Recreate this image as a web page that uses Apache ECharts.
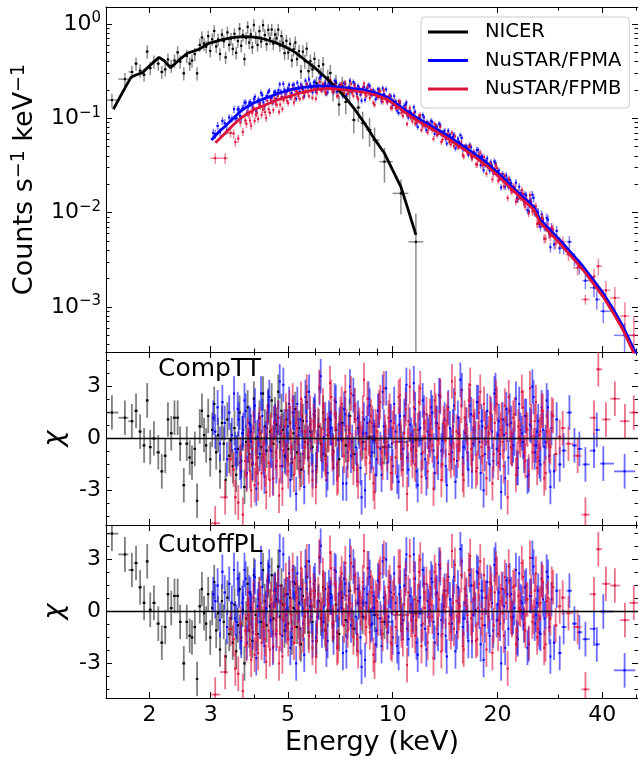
<!DOCTYPE html>
<html><head><meta charset="utf-8">
<script src="https://cdn.jsdelivr.net/npm/echarts@6/dist/echarts.min.js"></script>
<style>html,body{margin:0;padding:0;background:#fff}#chart{width:638px;height:759px}</style>
</head><body><div id="chart"></div>
<script>
// ---------------- data ----------------
const nicerE = [1.56,1.70,1.78,1.83,1.88,1.93,1.97,2.01,2.06,2.12,2.17,2.22,2.26,2.31,2.36,2.41,2.45,2.51,2.56,2.61,2.65,2.70,2.74,2.79,2.83,2.87,
2.91,2.95,2.99,3.03,3.07,3.11,3.15,3.19,3.23,3.27,3.31,3.35,3.39,3.43,3.47,3.51,3.55,3.59,3.63,3.67,3.71,3.75,3.79,3.83,3.87,3.91,3.95,3.99,
4.04,4.09,4.14,4.19,4.24,4.29,4.34,4.39,4.44,4.49,4.54,4.59,4.64,4.69,4.74,4.79,4.84,4.89,
4.95,5.01,5.07,5.13,5.19,5.25,5.31,5.38,5.45,5.52,5.59,5.66,5.73,5.80,5.88,5.96,
6.04,6.13,6.22,6.31,6.41,6.51,6.62,6.74,6.87,7.01,7.16,7.33,7.52,7.73,7.97,8.20,8.58,8.87,9.47,10.56,11.66];
const nicerRate = [0.156,0.26,0.31,0.38,0.32,0.29,0.51,0.34,0.40,0.38,0.31,0.33,0.42,0.36,0.41,0.50,0.40,0.30,0.46,0.38,0.41,0.48,0.30,0.60,0.72,0.62,
0.575,0.743,0.518,0.689,0.844,0.578,0.685,0.481,0.772,0.655,0.443,0.814,0.600,0.701,0.545,0.786,0.495,0.660,0.892,0.588,0.764,0.425,0.712,0.932,0.635,0.778,0.566,0.976,
0.721,0.599,0.840,0.653,0.972,0.764,0.610,0.866,0.705,0.874,0.619,0.773,0.704,0.871,0.592,0.744,0.633,0.491,
0.664,0.498,0.615,0.411,0.539,0.636,0.424,0.515,0.314,0.509,0.403,0.547,0.316,0.403,0.329,0.427,
0.236,0.358,0.285,0.373,0.218,0.270,0.302,0.193,0.236,0.140,0.221,0.149,0.200,0.096,0.130,0.089,0.0755,0.0589,0.0347,0.016,0.0049];
const nicerErrPct = [17,16,16,16,16,16,16,16,16,16,16,16,16,16,16,16,16,16,16,16,16,16,16,16,16,16,
15,15,15,15,15,15,15,15,15,15,15,15,15,15,15,15,15,15,15,15,15,15,15,15,15,15,15,15,
15,15,15,15,15,15,15,15,15,15,15,15,15,15,15,15,15,15,
16,16,16,16,16,16,16,16,17,17,17,17,17,18,18,18,
18,19,19,20,20,21,22,22,23,24,25,26,27,28,30,32,34,35,40,40,100];
const nicerResCompTT = [1.5,1.2,1.0,1.6,0.4,-0.4,2.2,-0.5,0.0,-0.8,-1.9,-1.0,1.1,0.3,1.2,1.2,-0.3,-2.7,-0.3,-1.1,-1.4,-0.6,-3.6,0.7,1.6,0.2,
-0.4,1.3,-1.2,0.5,2.0,-0.8,0.2,-1.9,0.9,-0.3,-2.4,1.1,-1.0,-0.1,-1.6,0.6,-2.1,-0.6,1.5,-1.3,0.3,-2.8,-0.2,1.8,-0.9,0.4,-1.5,2.3,
0.0,-1.1,1.2,-0.5,2.6,0.7,-0.7,1.9,0.4,2.2,-0.3,1.4,0.8,2.7,-0.2,1.6,0.5,-1.0,
1.1,-0.6,0.9,-1.4,0.3,1.7,-0.8,0.6,-1.8,1.0,-0.2,2.1,-1.1,0.4,-0.5,1.3,
-1.6,0.7,-0.3,1.5,-1.0,0.2,1.1,-0.7,0.5,-1.2,0.9,-0.4,1.3,-0.9,0.6,-0.2,0.1,-0.1,-0.5,-0.2,-0.1];
const nicerResCutoffPL = [4.5,3.3,2.4,2.8,1.4,0.5,2.9,0.1,0.5,-0.7,-1.8,-0.9,1.0,0.2,0.9,0.9,-0.6,-3.0,-0.6,-1.4,-1.5,-0.9,-3.9,0.3,1.3,-0.1,
-0.7,1.0,-1.5,0.2,1.7,-1.1,-0.1,-2.2,0.6,-0.6,-2.6,0.8,-1.3,-0.4,-1.8,0.4,-2.3,-0.8,1.3,-1.5,0.1,-3.0,-0.4,1.6,-1.1,0.2,-1.7,2.1,
-0.2,-1.3,1.0,-0.6,2.4,0.6,-0.8,1.8,0.3,2.1,-0.4,1.3,0.7,2.6,-0.3,1.5,0.4,-1.1,
1.0,-0.7,0.8,-1.5,0.2,1.6,-0.9,0.5,-1.9,0.9,-0.3,2.0,-1.2,0.3,-0.6,1.2,
-1.7,0.6,-0.4,1.4,-1.1,0.1,1.0,-0.8,0.4,-1.3,0.8,-0.5,1.2,-1.0,0.5,-0.3,0.0,-0.2,-0.6,-0.2,-0.1];

// NuSTAR/FPMA, main bin list
const fpmaE = [3.05,3.09,3.14,3.19,3.24,3.29,3.34,3.39,3.45,3.50,3.56,3.61,3.67,3.72,3.78,3.84,3.90,3.96,
4.02,4.09,4.15,4.22,4.28,4.35,4.42,4.49,4.56,4.63,4.70,4.77,4.85,4.92,
5.00,5.08,5.16,5.24,5.32,5.40,5.49,5.57,5.66,5.75,5.84,5.93,
6.02,6.11,6.21,6.31,6.40,6.50,6.61,6.71,6.81,6.92,7.03,7.14,7.25,7.36,7.48,7.59,7.71,7.83,7.95,
8.08,8.20,8.33,8.46,8.59,8.73,8.86,9.00,9.14,9.29,9.43,9.58,9.73,9.88,
10.0,10.2,10.4,10.5,10.7,10.9,11.0,11.2,11.4,11.5,11.7,11.9,12.1,12.3,12.5,12.7,12.9,13.1,13.3,13.5,13.7,13.9,
14.1,14.3,14.6,14.8,15.0,15.3,15.5,15.8,16.0,16.3,16.5,16.8,17.0,17.3,17.6,17.9,18.1,18.4,18.7,19.0,19.3,19.6,19.9,
20.2,20.5,20.9,21.2,21.5,21.9,22.2,22.6,22.9,23.3,23.7,24.0,24.4,24.8,25.2,25.6,26.0,26.4,26.8,27.3,27.7,28.2,28.6,29.1,29.6,
30.2,31.0,32.2,33.3,34.4,35.8,37.9,38.6,40.3,46.4];
const fpmaRate = [0.070,0.068,0.083,0.0713,0.094,0.089,0.075,0.102,0.099,0.125,
0.100,0.125,0.100,0.130,0.147,0.131,0.149,0.128,0.169,0.152,
0.144,0.176,0.133,0.172,0.197,0.165,0.188,0.160,0.199,0.192,
0.232,0.179,0.208,0.167,0.225,0.203,0.238,0.192,0.219,0.172,
0.231,0.258,0.209,0.240,0.192,0.223,0.277,0.207,0.238,0.189,
0.228,0.212,0.249,0.192,0.225,0.211,0.236,0.172,0.215,0.193,
0.242,0.197,0.220,0.178,0.205,0.157,0.208,0.219,0.179,0.189,
0.169,0.201,0.151,0.181,0.203,0.160,0.171,0.138,0.151,0.114,
0.147,0.123,0.139,0.110,0.120,0.107,0.131,0.088,0.101,0.089,
0.102,0.075,0.087,0.094,0.077,0.083,0.069,0.085,0.0705,0.074,
0.054,0.067,0.0585,0.067,0.0518,0.0562,0.062,0.0483,0.0507,0.0411,
0.0494,0.0421,0.041,0.0461,0.0318,0.0388,0.0323,0.0376,0.0280,0.0313,
0.0349,0.0261,0.0279,0.0185,0.0234,0.0248,0.0189,0.0206,0.0177,0.0208,
0.0139,0.0161,0.0143,0.0156,0.0106,0.0135,0.0155,0.0101,0.0102,0.0076,
0.0096,0.0071,0.0088,0.0060,0.0069,0.0046,0.0064,
0.0042,0.0042,0.0049,0.0032,0.0027,0.0019,0.0016,0.0012,0.0009,0.0005];
const fpmaErrPct = [11,11,10,10,10,10,10,9,9,9, 9,9,9,8,8,8,8,8,8,8, 8,8,8,7,7,7,7,7,7,7,
7,7,7,7,7,7,7,7,7,7, 7,7,7,7,7,7,7,7,7,7, 7,7,7,7,7,7,7,7,7,7, 7,7,7,7,7,7,7,7,7,7,
7,7,7,7,7,7,7,7,7,7, 7,7,7,7,7,7,7,7,7,7, 7,7,7,7,7,7,7,7,7,7, 7,7,7,7,7,7,7,7,7,7, 7,7,
8,8,8,8,8,8,8,8,8,8,8,8,8,8,8,8,8, 9,9,9,9,9,9, 10,10,10,10,10,10, 11,11,11, 12,12, 13,
13,14,15,16,18,19,21,22,25,35];
const fpmaResCompTT = [1.2,0.4,1.8,-0.3,2.1,0.9,-1.2,1.5,0.2,2.6, -0.8,1.1,-1.9,0.5,1.6,-0.4,0.8,-1.4,1.9,0.1,
-0.9,1.3,-2.2,0.6,2.4,-0.7,0.9,-1.6,1.2,0.3, 3.1,-1.1,0.7,-2.4,1.5,-0.2,2.0,-1.3,0.4,-2.8,
1.0,2.7,-0.6,1.4,-1.8,0.2,3.6,-0.9,1.1,-2.0, 0.6,-0.3,2.2,-1.5,0.8,-0.1,1.7,-2.6,0.5,-1.0,
2.5,-0.5,1.2,-1.7,0.3,-3.0,0.9,1.9,-0.8,0.1, -1.2,1.6,-2.1,0.7,2.9,-0.4,1.0,-1.6,0.4,-2.5,
1.3,-0.6,2.0,-1.1,0.8,-0.2,3.2,-1.9,0.5,-0.9, 1.5,-2.3,0.2,1.8,-0.7,0.9,-1.4,2.4,-0.1,1.1,
-2.7,0.6,-0.8,1.9,-1.3,0.3,2.8,-0.5,0.8,-1.8, 1.4,-0.3,0.0,2.1,-2.0,0.7,-0.9,1.6,-1.5,0.4,
2.6,-0.6,1.0,-3.1,0.2,1.7,-1.1,0.9,-0.4,2.3, -1.7,0.5,-0.2,1.3,-2.2,0.8,3.0,-0.8,0.4,-1.3,
1.8,-0.5,2.2,-1.0,0.6,-1.9,1.1,
-1.5,-0.7,1.5,-0.4,-0.6,-1.5,-0.7,0.5,-1.45,-1.9];
const fpmaResCutoffPL = [1.0,0.6,1.5,-0.5,2.3,1.1,-0.9,1.6,0.5,2.4, -0.6,1.2,-1.7,0.8,1.9,-0.2,1.0,-1.2,2.0,0.3,
-0.6,1.4,-2.0,0.9,2.6,-0.5,1.2,-1.3,1.5,0.5, 3.3,-0.8,1.0,-2.1,1.7,0.1,2.2,-1.0,0.7,-2.5,
1.3,2.9,-0.3,1.6,-1.5,0.5,3.8,-0.6,1.3,-1.7, 0.8,0.0,2.4,-1.2,1.0,0.2,1.9,-2.3,0.7,-0.8,
2.6,-0.3,1.3,-1.5,0.5,-2.8,1.0,2.0,-0.7,0.2, -1.1,1.7,-2.0,0.8,3.0,-0.3,1.1,-1.5,0.5,-2.4,
1.4,-0.5,2.1,-1.0,0.9,-0.1,3.3,-1.8,0.6,-0.8, 1.6,-2.2,0.3,1.9,-0.6,1.0,-1.3,2.5,0.0,1.2,
-2.6,0.7,-0.7,2.0,-1.2,0.4,2.9,-0.4,0.9,-1.7, 1.5,-0.2,0.1,2.2,-1.9,0.8,-0.8,1.7,-1.4,0.5,
2.7,-0.5,1.1,-3.0,0.3,1.8,-1.0,1.0,-0.3,2.4, -1.6,0.6,-0.1,1.4,-2.1,0.9,3.1,-0.7,0.5,-1.2,
1.9,-0.4,2.3,-0.9,0.7,-1.8,1.2,
-2.4,-0.9,1.2,-0.7,-1.2,-1.6,-1.0,-1.9,0.0,-3.4];

// NuSTAR/FPMA, interleaved bins
const fpmaExtraE = [3.53,3.585,3.64,3.695,3.75,3.81,3.87,3.93,3.99,4.055,4.12,4.185,4.25,4.315,4.385,4.455,4.525,4.595,4.665,4.735,
4.81,4.885,4.96,5.04,5.12,5.20,5.28,5.36,5.445,5.53,5.615,5.705,5.795,5.885,5.975,6.065,6.16,6.26,6.355,6.45,
6.555,6.66,6.76,6.865,6.975,7.085,7.195,7.305,7.42,7.535,7.65,7.77,7.89,8.015,8.14,8.265,8.395,8.525,8.66,8.795,
8.93,9.07,9.215,9.36,9.505,9.655,9.805,9.94,10.1,10.3,10.45,10.6,10.8,10.95,11.1,11.3,11.45,11.6,11.8,12.0,
12.2,12.4,12.6,12.8,13.0,13.2,13.4,13.6,13.8,14.0,14.2,14.45,14.7,14.9,15.15,15.4,15.65,15.9,16.15,16.4,
16.65,16.9,17.15,17.45,17.75,18.0,18.25,18.55,18.85,19.15,19.45,19.75,20.05,20.35,20.7,21.05,21.35,21.7,22.05,22.4,
22.75,23.1,23.5,23.85,24.2,24.6,25.0,25.4,25.8,26.2,26.6,27.05,27.5,27.95,28.4];
const fpmaExtraRate = [0.100,0.124,0.106,0.126,0.147,0.114,0.146,0.140,0.159,0.119,
0.158,0.186,0.148,0.1635,0.188,0.163,0.147,0.191,0.187,0.229,
0.168,0.202,0.191,0.227,0.185,0.227,0.161,0.213,0.228,0.200,
0.251,0.212,0.230,0.189,0.244,0.212,0.265,0.201,0.2225,0.183,
0.238,0.227,0.191,0.247,0.213,0.226,0.173,0.231,0.197,0.251,
0.2036,0.232,0.182,0.208,0.154,0.215,0.2016,0.226,0.178,0.198,
0.159,0.203,0.171,0.208,0.171,0.151,0.174,0.154,0.172,0.121,
0.144,0.123,0.136,0.147,0.102,0.113,0.104,0.117,0.081,0.100,
0.108,0.083,0.090,0.0839,0.0906,0.0684,0.0818,0.0875,0.0685,0.0705,
0.0604,0.0738,0.0612,0.0635,0.0479,0.0607,0.0662,0.0471,0.0500,0.0448,
0.0521,0.0381,0.0435,0.0462,0.0382,0.0398,0.0282,0.0354,0.0314,0.0340,
0.0269,0.0336,0.0270,0.0236,0.0256,0.0188,0.0224,0.0222,0.0180,0.0177,
0.0142,0.0188,0.0154,0.0130,0.0152,0.0104,0.0130,0.0143,0.0100,0.0101,
0.0071,0.0082,0.0071,0.0084,0.0043];
const fpmaExtraErrPct = [9,9,9,9, 8,8,8,8,8,8,8,8,8,8,
7,7,7,7,7,7,7,7,7,7, 7,7,7,7,7,7,7,7,7,7, 7,7,7,7,7,7,7,7,7,7, 7,7,7,7,7,7,7,7,7,7,
7,7,7,7,7,7,7,7,7,7, 7,7,7,7,7,7,7,7,7,7, 7,7,7,7,7,7,7,7,7,7, 7,7,7,7,7,7,7,7,7,7, 7,7,7,7,7,7,7,7,7,
8,8,8,8,8,8,8,8,8,8,8,8,8,8,8,8,8, 9,9,9,9,9, 10,10,10,10,10, 11,11,11, 12,12];
const fpmaExtraResCompTT = [-0.6,1.7,-1.4,0.3,2.2,-2.0,0.9,-0.2,1.3,-2.9, 0.5,2.6,-1.1,0.0,1.8,-0.7,-2.3,1.0,0.4,3.3,
-1.6,0.7,-0.4,2.0,-1.2,1.5,-3.2,0.2,1.1,-0.9, 2.4,-0.3,0.8,-1.9,1.6,-0.5,2.9,-1.3,0.1,-2.4,
1.2,0.6,-1.7,2.1,-0.1,0.9,-2.6,1.4,-0.8,3.0, -0.2,1.9,-1.5,0.4,-3.4,1.1,0.3,2.3,-1.0,0.7,
-2.1,1.6,-0.6,2.7,0.0,-1.4,1.0,-0.3,2.0,-2.2, 0.8,-0.9,1.3,3.1,-1.8,0.2,-0.5,1.7,-2.7,0.6,
2.2,-1.2,0.4,-0.1,1.5,-2.0,0.9,2.5,-0.7,0.1, -1.6,1.8,-0.4,0.7,-2.5,1.2,3.4,-1.1,0.3,-0.8,
1.9,-1.9,0.5,2.1,-0.2,1.0,-3.0,0.6,-0.5,1.4, -1.3,2.8,0.2,-0.9,1.1,-2.3,0.8,1.6,-0.6,0.0,
-1.7,2.0,0.3,-1.0,1.3,-2.1,0.7, 2.4,-0.4,1.0,-1.5,0.5,-0.2,1.8,-2.8];
const fpmaExtraResCutoffPL = [-0.4,1.9,-1.2,0.5,2.4,-1.8,1.1,0.0,1.5,-2.7, 0.7,2.8,-0.9,0.2,2.0,-0.5,-2.1,1.2,0.6,3.5,
-1.4,0.9,-0.2,2.2,-1.0,1.7,-3.0,0.4,1.3,-0.7, 2.6,-0.1,1.0,-1.7,1.8,-0.3,3.1,-1.1,0.3,-2.2,
1.4,0.8,-1.5,2.3,0.1,1.1,-2.4,1.6,-0.6,3.2, 0.0,2.1,-1.3,0.6,-3.2,1.3,0.5,2.5,-0.8,0.9,
-1.9,1.8,-0.4,2.9,0.2,-1.2,1.2,-0.1,2.2,-2.0, 1.0,-0.7,1.5,3.3,-1.6,0.4,-0.3,1.9,-2.5,0.8,
2.4,-1.0,0.6,0.1,1.7,-1.8,1.1,2.7,-0.5,0.3, -1.4,2.0,-0.2,0.9,-2.3,1.4,3.6,-0.9,0.5,-0.6,
2.1,-1.7,0.7,2.3,0.0,1.2,-2.8,0.8,-0.3,1.6, -1.1,3.0,0.4,-0.7,1.3,-2.1,1.0,1.8,-0.4,0.2,
-1.5,2.2,0.5,-0.8,1.5,-1.9,0.9, 2.6,-0.2,1.2,-1.3,0.7,0.0,2.0,-2.6];

// NuSTAR/FPMB, main bin list
const fpmbE = [3.09,3.30,3.42,3.49,3.53,3.60,3.65,3.71,3.77,3.83,3.89,3.95,
4.01,4.07,4.14,4.20,4.27,4.33,4.40,4.47,4.54,4.61,4.68,4.75,4.82,4.89,4.97,
5.05,5.12,5.20,5.28,5.36,5.45,5.53,5.62,5.70,5.79,5.88,5.97,
6.06,6.16,6.26,6.35,6.45,6.55,6.66,6.76,6.87,6.97,7.08,7.19,7.31,7.42,7.54,7.65,7.77,7.89,
8.02,8.14,8.27,8.40,8.53,8.66,8.80,8.94,9.07,9.21,9.36,9.50,9.65,9.80,9.95,
10.1,10.3,10.5,10.6,10.8,11.0,11.1,11.3,11.5,11.6,11.8,12.0,12.2,12.4,12.6,12.8,13.0,13.2,13.4,13.6,13.8,
14.0,14.2,14.4,14.7,14.9,15.1,15.4,15.6,15.9,16.1,16.4,16.7,16.9,17.2,17.5,17.7,18.0,18.3,18.6,18.9,19.2,19.5,19.8,
20.1,20.4,20.7,21.0,21.4,21.7,22.0,22.4,22.8,23.1,23.5,23.9,24.2,24.6,25.0,25.4,25.8,26.2,26.6,27.0,27.5,27.9,28.4,28.9,29.4,
30.2,30.8,32.0,34.0,35.8,37.9,39.0,41.0,43.5,46.5,49.3];
const fpmbRate = [0.0377,0.0377,0.070,0.069,0.056,0.061,0.090,0.072,0.095,0.115,
0.095,0.114,0.094,0.114,0.139,0.109,0.133,0.101,0.125,0.153,
0.122,0.143,0.172,0.140,0.125,0.167,0.153,0.197,0.167,0.147,
0.194,0.172,0.217,0.166,0.196,0.190,0.215,0.165,0.210,0.187,
0.244,0.198,0.221,0.185,0.210,0.242,0.194,0.214,0.173,0.223,
0.201,0.238,0.181,0.202,0.187,0.221,0.170,0.204,0.187,0.234,
0.173,0.185,0.199,0.146,0.185,0.167,0.195,0.150,0.168,0.148,
0.171,0.128,0.152,0.132,0.149,0.114,0.120,0.087,0.117,0.100,
0.113,0.088,0.097,0.108,0.082,0.085,0.071,0.087,0.075,0.087,
0.066,0.073,0.056,0.069,0.0625,0.068,0.053,0.0576,0.0644,0.0495,
0.0507,0.041,0.050,0.0431,0.051,0.0375,0.0412,0.0324,0.041,0.0336,
0.0389,0.0259,0.0309,0.0316,0.0258,0.0317,0.0218,0.0244,0.0220,0.0244,
0.0143,0.0199,0.0167,0.0187,0.0139,0.0150,0.0174,0.0123,0.0136,0.0099,
0.0127,0.0104,0.0117,0.0077,0.0080,0.0086,0.0053,0.0070,0.0056,0.0066,
0.0047,
0.0049,0.0049,0.0036,0.0026,0.0012,0.0021,0.0027,0.0015,0.00125,0.0008,0.0005];
const fpmbErrPct = [13,13,11,11,11,10,10,10,10,10, 10,10,9,9,9,9,9,9,9,8, 8,8,8,8,8,8,8,8,8,8, 8,
7,7,7,7,7,7,7,7,7,7, 7,7,7,7,7,7,7,7,7,7, 7,7,7,7,7,7,7,7,7,7, 7,7,7,7,7,7,7,7,7,7,
7,7,7,7,7,7,7,7,7,7, 7,7,7,7,7,7,7,7,7,7, 7,7,7,7,7,7,7,7,7,7, 7,7,7,7,
8,8,8,8,8,8,8,8,8,8,8,8,8,8,8,8, 9,9,9,9,9,9,9, 10,10,10,10,10,10, 11,11,11, 12,12,12, 13,
13,14,15,17,12,20,20,26,30,40,60];
const fpmbResCompTT = [-4.9,-3.4,-1.2,-1.8,-3.4,-3.7,-0.9,-4.4,-1.3,0.2, -1.9,-0.6,-2.7,-1.1,0.8,-2.0,-0.3,-3.1,-1.4,0.5,
-2.3,-0.8,1.2,-1.6,-2.9,0.1,-1.2,1.8,-0.5,-2.1, 0.9,-0.9,2.3,-1.7,0.4,-0.2,1.5,-2.4,0.7,-1.0,
3.0,-0.4,1.1,-1.5,0.2,2.4,-0.8,0.6,-2.2,1.4, -0.1,2.7,-1.3,0.3,-0.7,1.9,-1.8,0.8,-0.3,3.4,
-1.1,0.0,1.3,-2.6,0.7,-0.5,2.1,-1.4,0.4,-0.9, 1.6,-2.0,0.9,-0.2,2.5,-1.2,0.3,-3.2,1.0,-0.6,
1.8,-1.5,0.5,2.9,-0.8,0.1,-1.9,1.3,-0.4,2.2, -1.1,0.6,-2.4,0.9,-0.1,1.7,-1.3,0.4,2.6,-0.7,
0.2,-2.1,1.2,-0.3,3.1,-1.0,0.7,-1.7,1.5,-0.5, 2.0,-2.3,0.3,1.1,-0.9,2.4,-1.4,0.5,-0.2,1.9,
-3.4,0.8,-0.6,1.4,-1.2,0.1,2.7,-0.8,0.6,-1.9, 1.0,-0.4,2.1,-1.1,0.4,1.6,-2.0,0.7,-0.5,1.3,
-0.9,
0.1,0.6,-0.3,-1.0,-4.4,1.2,4.0,1.1,2.3,1.0,1.5];
const fpmbResCutoffPL = [-4.8,-3.5,-1.0,-1.6,-3.3,-3.6,-0.7,-4.6,-1.1,0.4, -1.6,-0.4,-2.5,-0.8,1.0,-1.8,0.0,-2.9,-1.1,0.7,
-2.0,-0.5,1.4,-1.3,-2.6,0.4,-0.9,2.0,-0.2,-1.8, 1.1,-0.6,2.5,-1.4,0.7,0.1,1.7,-2.1,0.9,-0.8,
3.2,-0.2,1.3,-1.3,0.4,2.5,-0.6,0.8,-2.0,1.6, 0.1,2.8,-1.1,0.5,-0.5,2.0,-1.6,1.0,-0.1,3.5,
-0.9,0.2,1.4,-2.5,0.8,-0.4,2.2,-1.3,0.5,-0.8, 1.7,-1.9,1.0,-0.1,2.6,-1.1,0.4,-3.1,1.1,-0.5,
1.9,-1.4,0.6,3.0,-0.7,0.2,-1.8,1.4,-0.3,2.3, -1.0,0.7,-2.3,1.0,0.0,1.8,-1.2,0.5,2.7,-0.6,
0.3,-2.0,1.3,-0.2,3.2,-0.9,0.8,-1.6,1.6,-0.4, 2.1,-2.2,0.4,1.2,-0.8,2.5,-1.3,0.6,-0.1,2.0,
-3.3,0.9,-0.5,1.5,-1.1,0.2,2.8,-0.7,0.7,-1.8, 1.1,-0.3,2.2,-1.0,0.5,1.7,-1.9,0.8,-0.4,1.4,
-0.8,
0.3,0.8,-0.1,-0.9,-4.5,1.0,3.6,1.6,1.5,-0.5,0.5];

// NuSTAR/FPMB, interleaved bins
const fpmbExtraE = [3.80,3.86,3.92,3.98,4.04,4.105,4.17,4.235,4.30,4.365,4.435,4.505,4.575,4.645,4.715,4.785,4.855,4.93,5.01,5.085,
5.16,5.24,5.32,5.405,5.49,5.575,5.66,5.745,5.835,5.925,6.015,6.11,6.21,6.305,6.40,6.50,6.605,6.71,6.815,6.92,
7.025,7.135,7.25,7.365,7.48,7.595,7.71,7.83,7.955,8.08,8.205,8.335,8.465,8.595,8.73,8.87,9.005,9.14,9.285,9.43,
9.575,9.725,9.875,10.0,10.2,10.4,10.55,10.7,10.9,11.05,11.2,11.4,11.55,11.7,11.9,12.1,12.3,12.5,12.7,12.9,
13.1,13.3,13.5,13.7,13.9,14.1,14.3,14.55,14.8,15.0,15.25,15.5,15.75,16.0,16.25,16.55,16.8,17.05,17.35,17.6,
17.85,18.15,18.45,18.75,19.05,19.35,19.65,19.95,20.25,20.55,20.85,21.2,21.55,21.85,22.2,22.6,22.95,23.3,23.7,24.05,
24.4,24.8,25.2,25.6,26.0,26.4,26.8,27.25,27.7,28.15,28.65];
const fpmbExtraRate = [0.0877,0.110,0.0833,0.130,0.109,0.0984,0.135,0.124,0.116,0.154,
0.114,0.146,0.162,0.139,0.117,0.167,0.155,0.189,0.145,0.174,
0.206,0.163,0.191,0.160,0.205,0.183,0.228,0.172,0.199,0.213,
0.161,0.213,0.2016,0.232,0.189,0.215,0.254,0.194,0.226,0.172,
0.208,0.231,0.187,0.209,0.194,0.233,0.173,0.209,0.160,0.192,
0.210,0.180,0.216,0.165,0.192,0.139,0.179,0.193,0.159,0.198,
0.158,0.169,0.130,0.152,0.128,0.152,0.126,0.106,0.129,0.107,
0.129,0.0927,0.102,0.0913,0.106,0.0749,0.0909,0.0911,0.0778,0.0791,
0.0606,0.0817,0.0705,0.0808,0.0593,0.0671,0.0663,0.0558,0.0702,0.0507,
0.0548,0.0499,0.0555,0.0393,0.0477,0.0496,0.0397,0.0440,0.0325,0.0370,
0.0435,0.0316,0.0342,0.0305,0.0332,0.0225,0.0292,0.0297,0.0227,0.0250,
0.0190,0.0210,0.0229,0.0173,0.0189,0.0131,0.0163,0.0144,0.0159,0.0116,
0.0131,0.0153,0.0103,0.0113,0.0076,0.0084,0.0088,0.0053,0.0070,0.0060,0.0069];
const fpmbExtraErrPct = [10,10,10,10, 9,9,9,9,9,9,9, 8,8,8,8,8,8,8,8,8,8,8,8,
7,7,7,7,7,7,7,7,7,7, 7,7,7,7,7,7,7,7,7,7, 7,7,7,7,7,7,7,7,7,7, 7,7,7,7,7,7,7,7,7,7,
7,7,7,7,7,7,7,7,7,7, 7,7,7,7,7,7,7,7,7,7, 7,7,7,7,7,7,7,7,7,7, 7,7,7,7,
8,8,8,8,8,8,8,8,8,8,8,8,8,8,8,8, 9,9,9,9,9,9,9, 10,10,10,10,10,10, 11,11,11, 12,12];
const fpmbExtraResCompTT = [-2.1,-0.4,-3.0,0.6,-1.5,-2.6,0.3,-0.9,-1.8,1.0, -2.4,-0.2,0.9,-1.3,-3.3,0.4,-0.7,1.6,-1.9,0.1,
2.2,-1.1,0.6,-2.0,1.3,-0.5,2.7,-1.6,0.2,1.0, -2.8,0.8,-0.1,1.9,-1.2,0.5,3.2,-0.9,1.4,-2.3,
0.3,2.0,-1.0,0.7,-0.3,2.6,-1.7,1.1,-2.5,0.0, 1.5,-0.6,2.3,-1.4,0.9,-3.1,0.4,1.8,-0.8,2.9,
-0.2,1.2,-2.0,0.6,-1.1,2.4,0.1,-1.8,1.7,-0.4, 3.0,-1.3,0.5,-0.7,2.1,-2.2,0.9,1.4,-0.5,0.2,
-2.9,1.6,-0.1,2.5,-1.5,0.7,1.0,-0.9,3.3,-1.2, 0.4,-0.3,1.9,-2.4,0.8,2.2,-0.6,1.3,-1.9,0.0,
2.7,-1.0,0.6,-0.2,1.5,-2.6,0.9,2.0,-0.7,1.1, -1.6,0.3,2.4,-0.5,1.2,-2.1,0.7,-0.1,1.8,-1.3,
0.5,2.9,-0.8,1.0,-1.7,0.2,1.6,-2.3,0.4,-0.4, 1.4];
const fpmbExtraResCutoffPL = [-1.9,-0.2,-2.8,0.8,-1.3,-2.4,0.5,-0.7,-1.6,1.2, -2.2,0.0,1.1,-1.1,-3.0,0.6,-0.5,1.8,-1.6,0.3,
2.4,-0.9,0.8,-1.8,1.5,-0.3,2.9,-1.4,0.4,1.2, -2.6,1.0,0.1,2.1,-1.0,0.7,3.4,-0.7,1.6,-2.1,
0.5,2.2,-0.8,0.9,-0.1,2.8,-1.5,1.3,-2.3,0.2, 1.7,-0.4,2.5,-1.2,1.1,-2.9,0.6,2.0,-0.6,3.1,
0.0,1.4,-1.8,0.8,-0.9,2.6,0.3,-1.6,1.9,-0.2, 3.2,-1.1,0.7,-0.5,2.3,-2.0,1.1,1.6,-0.3,0.4,
-2.7,1.8,0.1,2.7,-1.3,0.9,1.2,-0.7,3.5,-1.0, 0.6,-0.1,2.1,-2.2,1.0,2.4,-0.4,1.5,-1.7,0.2,
2.9,-0.8,0.8,0.0,1.7,-2.4,1.1,2.2,-0.5,1.3, -1.4,0.5,2.6,-0.3,1.4,-1.9,0.9,0.1,2.0,-1.1,
0.7,3.1,-0.6,1.2,-1.5,0.4,1.8,-2.1,0.6,-0.2, 1.6];

// model curves
const nicerModelE = [1.575,1.704,1.769,1.828,1.909,2.0,2.131,2.2,2.301,2.431,2.567,2.773,2.961,3.2,3.451,3.65,3.852,4.05,4.30,4.6,4.904,5.25,5.594,6.0,6.38,6.8,7.278,7.75,8.30,8.9,9.47,10.0,10.56,11.1,11.66];
const nicerModelRate = [0.1247,0.213,0.272,0.288,0.305,0.36,0.443,0.41,0.344,0.415,0.489,0.539,0.624,0.675,0.716,0.729,0.734,0.722,0.689,0.637,0.575,0.50,0.415,0.338,0.276,0.22,0.1696,0.127,0.0886,0.059,0.0426,0.0283,0.0188,0.0105,0.0058];
const fpmaModelE = [3.014,3.162,3.305,3.491,3.686,3.981,4.30,4.692,5.12,5.534,5.974,6.436,6.966,7.586,8.30,8.94,9.676,10.33,11.1,11.92,12.8,13.74,14.85,16.03,17.3,18.68,20.2,21.78,23.5,25.41,26.0,26.53,28.3,30.26,32.7,35.3,37.7,40.26,43.0,45.92,48.0,50.0,50.7];
const fpmaModelRate = [0.0589,0.0716,0.0829,0.1008,0.1225,0.1454,0.163,0.1834,0.203,0.2133,0.220,0.221,0.214,0.207,0.1996,0.1856,0.167,0.140,0.116,0.0975,0.0845,0.0725,0.0605,0.0500,0.0412,0.0334,0.0258,0.0196,0.0150,0.0116,0.0098,0.0084,0.0066,0.0051,0.0037,0.00267,0.00194,0.00140,0.00095,0.00062,0.00044,0.00032,0.00029];
const fpmbModelE = [3.094,3.305,3.491,3.686,3.981,4.30,4.692,5.12,5.354,5.974,6.52,6.966,7.586,8.30,8.94,9.676,10.33,11.1,11.92,12.8,13.74,14.85,16.03,17.3,18.68,20.2,21.78,23.5,25.41,26.0,26.53,28.3,30.26,32.7,35.3,37.7,40.26,43.0,45.92,48.0,50.0,50.7];
const fpmbModelRate = [0.0552,0.0700,0.0860,0.1025,0.123,0.1384,0.158,0.174,0.184,0.200,0.2077,0.204,0.197,0.189,0.176,0.158,0.132,0.109,0.0915,0.0793,0.0680,0.0567,0.0468,0.0386,0.0312,0.0241,0.0183,0.0140,0.0108,0.0091,0.0078,0.0061,0.0047,0.0034,0.00245,0.00178,0.00128,0.00087,0.00057,0.00040,0.00029,0.00026];

const xTickLabels = [2,3,5,10,20,40];
const xTickMinor = [4,6,7,8,9,30,50];
const rateTickMajor = [0.001,0.01,0.1,1];
const chiTickMajor = [-3,0,3];
const chiTickMinor = [-4.5,-3.75,-2.25,-1.5,-0.75,0.75,1.5,2.25,3.75,4.5];
const legendNames = ['NICER','NuSTAR/FPMA','NuSTAR/FPMB'];
const panelNames = ['CompTT','CutoffPL'];

// axis limits (right limit lies just past the cropped right frame)
const E_MIN = 1.5, E_MAX = 50.7;
const RATE_MIN = 3.33e-4, RATE_MAX = 1.514;
const CHI_MIN = -5, CHI_MAX = 5;

// ---------------- build ----------------
const FONT = 'DejaVu Sans';
const lg = Math.log10;
const C_BLACK = '#000000', C_BLUE = '#0000ff', C_RED = '#dc143c';
const A_BLACK = 'rgba(0,0,0,0.45)', A_BLUE = 'rgba(0,0,255,0.5)', A_RED = 'rgba(220,20,60,0.5)';
const R_BLACK = 'rgba(0,0,0,0.5)', R_BLUE = 'rgba(0,0,255,0.58)', R_RED = 'rgba(220,20,60,0.6)';

// merge two bin lists (each: E, rate, err, resComp, resCut) sorted by energy
function mergeBins(a, b) {
  const rows = [];
  [a, b].forEach(s => s[0].forEach((e, i) => rows.push([e, s[1][i], s[2][i], s[3][i], s[4][i]])));
  rows.sort((p, q) => p[0] - q[0]);
  return [0, 1, 2, 3, 4].map(k => rows.map(r => r[k]));
}
const fpma = mergeBins([fpmaE, fpmaRate, fpmaErrPct, fpmaResCompTT, fpmaResCutoffPL],
  [fpmaExtraE, fpmaExtraRate, fpmaExtraErrPct, fpmaExtraResCompTT, fpmaExtraResCutoffPL]);
const fpmb = mergeBins([fpmbE, fpmbRate, fpmbErrPct, fpmbResCompTT, fpmbResCutoffPL],
  [fpmbExtraE, fpmbExtraRate, fpmbExtraErrPct, fpmbExtraResCompTT, fpmbExtraResCutoffPL]);
const nicer = [nicerE, nicerRate, nicerErrPct, nicerResCompTT, nicerResCutoffPL];

function binEdges(E) {
  const L = E.map(lg);
  return L.map((l, i) => {
    const lo = i > 0 ? (l + L[i - 1]) / 2 : l - (L[1] - L[0]) / 2;
    const hi = i < L.length - 1 ? (l + L[i + 1]) / 2 : l + (l - L[i - 1]) / 2;
    return [lo, hi];
  });
}
function specData(E, R, P) {
  const ed = binEdges(E);
  return E.map((e, i) => {
    const r = R[i], f = P[i] / 100;
    return [lg(e), ed[i][0], ed[i][1], lg(r), lg(Math.max(r * (1 - f), 1e-7)), lg(r * (1 + f))];
  });
}
function resData(E, Res) {
  const ed = binEdges(E);
  return E.map((e, i) => [lg(e), ed[i][0], ed[i][1], Res[i], Res[i] - 1, Res[i] + 1]);
}
function modelData(E, R) { return E.map((e, i) => [lg(e), lg(R[i])]); }

function errRender(barColor, dotColor, lw, dot) {
  return function (params, api) {
    const x = api.value(0), xl = api.value(1), xh = api.value(2);
    const y = api.value(3), yl = api.value(4), yh = api.value(5);
    const c = api.coord([x, y]), cl = api.coord([xl, y]), ch = api.coord([xh, y]);
    const cb = api.coord([x, yl]), ct = api.coord([x, yh]);
    return { type: 'group', children: [
      { type: 'line', shape: { x1: cl[0], y1: c[1], x2: ch[0], y2: c[1] }, style: { stroke: barColor, lineWidth: lw } },
      { type: 'line', shape: { x1: c[0], y1: cb[1], x2: c[0], y2: ct[1] }, style: { stroke: barColor, lineWidth: lw } },
      { type: 'rect', shape: { x: c[0] - dot / 2, y: c[1] - dot / 2, width: dot, height: dot }, style: { fill: dotColor } }
    ]};
  };
}
function errSeries(name, data, gi, barColor, dotColor, lw, dot) {
  return { name: name, type: 'custom', xAxisIndex: gi * 4, yAxisIndex: gi * 4, data: data,
    encode: { x: [0, 1, 2], y: [3, 4, 5] }, clip: true, z: 2, silent: true,
    renderItem: errRender(barColor, dotColor, lw, dot) };
}

const grids = [
  { left: 106, top: 7, width: 535, height: 345 },
  { left: 106, top: 352, width: 535, height: 173 },
  { left: 106, top: 525, width: 535, height: 173 }
];

const lineStyleBlack = { color: '#000', width: 1 };
function mkAxis(gi, pos, ticks, len, showLine, min, max, label, extra) {
  const a = { type: 'value', gridIndex: gi, position: pos, min: min, max: max,
    axisLine: { show: showLine, onZero: false, lineStyle: lineStyleBlack },
    axisTick: { show: true, inside: true, length: len, customValues: ticks, lineStyle: lineStyleBlack },
    axisLabel: label || { show: false },
    splitLine: { show: false }, minorTick: { show: false } };
  return Object.assign(a, extra || {});
}

const xMajorL = xTickLabels.map(lg), xMinorL = xTickMinor.map(lg);
const xAxes = [], yAxes = [];
const xmin = lg(E_MIN), xmax = lg(E_MAX);
for (let g = 0; g < 3; g++) {
  const lab = g === 2 ? { show: true, customValues: xMajorL, margin: 6, fontSize: 22, color: '#000', fontFamily: FONT,
    formatter: v => String(Math.round(Math.pow(10, v))) } : null;
  const extra = g === 2 ? { name: 'Energy (keV)', nameLocation: 'middle', nameGap: 31,
    nameTextStyle: { fontSize: 27, color: '#000', fontFamily: FONT, lineHeight: 27 } } : null;
  xAxes.push(mkAxis(g, 'bottom', xMajorL, 6, true, xmin, xmax, lab, extra));
  xAxes.push(mkAxis(g, 'bottom', xMinorL, 3.5, false, xmin, xmax));
  xAxes.push(mkAxis(g, 'top', xMajorL, 6, true, xmin, xmax));
  xAxes.push(mkAxis(g, 'top', xMinorL, 3.5, false, xmin, xmax));
}
const yTopMin = lg(RATE_MIN), yTopMax = lg(RATE_MAX);
const rateMajorL = rateTickMajor.map(lg);
const rateMinorL = [];
for (let n = -4; n <= 0; n++) for (let k = 2; k <= 9; k++) {
  const v = lg(k) + n; if (v > yTopMin && v < yTopMax) rateMinorL.push(v);
}
const supRich = {
  b: { fontSize: 22, lineHeight: 26, fontFamily: FONT, color: '#000' },
  s: { fontSize: 15, lineHeight: 15, verticalAlign: 'top', fontFamily: FONT, color: '#000' }
};
yAxes.push(mkAxis(0, 'left', rateMajorL, 6, true, yTopMin, yTopMax,
  { show: true, customValues: rateMajorL, margin: 5, rich: supRich,
    formatter: v => { const e = Math.round(v); return '{b|10}{s|' + (e < 0 ? '\u2212' + (-e) : String(e)) + '}'; } },
  { name: '{b|Counts s}{s|\u22121}{b| keV}{s|\u22121}', nameLocation: 'middle', nameRotate: 90, nameGap: 66,
    nameTextStyle: { fontFamily: FONT, color: '#000', rich: {
      b: { fontSize: 27, lineHeight: 30, fontFamily: FONT, color: '#000' },
      s: { fontSize: 19, lineHeight: 19, verticalAlign: 'top', fontFamily: FONT, color: '#000' } } } }));
yAxes.push(mkAxis(0, 'left', rateMinorL, 3.5, false, yTopMin, yTopMax));
yAxes.push(mkAxis(0, 'right', rateMajorL, 6, true, yTopMin, yTopMax));
yAxes.push(mkAxis(0, 'right', rateMinorL, 3.5, false, yTopMin, yTopMax));
for (let g = 1; g < 3; g++) {
  yAxes.push(mkAxis(g, 'left', chiTickMajor, 6, true, CHI_MIN, CHI_MAX,
    { show: true, customValues: chiTickMajor, margin: 5, fontSize: 22, color: '#000', fontFamily: FONT,
      formatter: v => String(Math.round(v)) },
    { name: '\u03c7', nameLocation: 'middle', nameRotate: 90, nameGap: 25,
      nameTextStyle: { fontSize: 27, fontStyle: 'italic', color: '#000', fontFamily: FONT, lineHeight: 27 } }));
  yAxes.push(mkAxis(g, 'left', chiTickMinor, 3.5, false, CHI_MIN, CHI_MAX));
  yAxes.push(mkAxis(g, 'right', chiTickMajor, 6, true, CHI_MIN, CHI_MAX));
  yAxes.push(mkAxis(g, 'right', chiTickMinor, 3.5, false, CHI_MIN, CHI_MAX));
}

const series = [];
series.push(errSeries('NICER data', specData(nicer[0], nicer[1], nicer[2]), 0, A_BLACK, C_BLACK, 1.5, 2.2));
series.push(errSeries('FPMA data', specData(fpma[0], fpma[1], fpma[2]), 0, A_BLUE, C_BLUE, 1.5, 2.0));
series.push(errSeries('FPMB data', specData(fpmb[0], fpmb[1], fpmb[2]), 0, A_RED, C_RED, 1.5, 2.0));
const models = [[nicerModelE, nicerModelRate, C_BLACK], [fpmaModelE, fpmaModelRate, C_BLUE], [fpmbModelE, fpmbModelRate, C_RED]];
models.forEach((m, i) => series.push({ name: legendNames[i], type: 'line', xAxisIndex: 0, yAxisIndex: 0,
  data: modelData(m[0], m[1]), showSymbol: false, symbol: 'none', color: m[2], clip: true, z: 4, silent: true,
  lineStyle: { color: m[2], width: 2.8 }, itemStyle: { color: m[2] } }));
[3, 4].forEach((col, k) => {
  const g = k + 1;
  series.push(errSeries('NICER res' + g, resData(nicer[0], nicer[col]), g, R_BLACK, C_BLACK, 1.8, 2.2));
  series.push(errSeries('FPMA res' + g, resData(fpma[0], fpma[col]), g, R_BLUE, C_BLUE, 1.8, 2.0));
  series.push(errSeries('FPMB res' + g, resData(fpmb[0], fpmb[col]), g, R_RED, C_RED, 1.8, 2.0));
  series.push({ name: 'zero' + g, type: 'line', xAxisIndex: g * 4, yAxisIndex: g * 4, data: [], z: 10, silent: true,
    markLine: { silent: true, symbol: ['none', 'none'], label: { show: false }, animation: false,
      lineStyle: { color: '#000', width: 1.3, type: 'solid' }, data: [{ yAxis: 0 }] } });
});

const option = {
  animation: false,
  backgroundColor: '#ffffff',
  textStyle: { fontFamily: FONT },
  grid: grids,
  xAxis: xAxes,
  yAxis: yAxes,
  legend: { data: legendNames, orient: 'vertical', left: 421, top: 17, padding: [4, 8, 8, 7],
    itemWidth: 40, itemHeight: 3, itemGap: 6.5, icon: 'rect', selectedMode: false,
    borderColor: '#cccccc', borderWidth: 1, borderRadius: 4, backgroundColor: 'rgba(255,255,255,0.8)',
    textStyle: { fontSize: 19.5, fontFamily: FONT, color: '#000', lineHeight: 22, padding: [0, 0, 0, 12] } },
  graphic: [
    { type: 'text', left: 158, top: 357, z: 20, style: { text: panelNames[0], font: '25px "DejaVu Sans"', fill: '#000' } },
    { type: 'text', left: 158, top: 533, z: 20, style: { text: panelNames[1], font: '25px "DejaVu Sans"', fill: '#000' } }
  ],
  series: series
};
const chart = echarts.init(document.getElementById('chart'), null, { renderer: 'canvas' });
chart.setOption(option);
</script>
</body></html>
